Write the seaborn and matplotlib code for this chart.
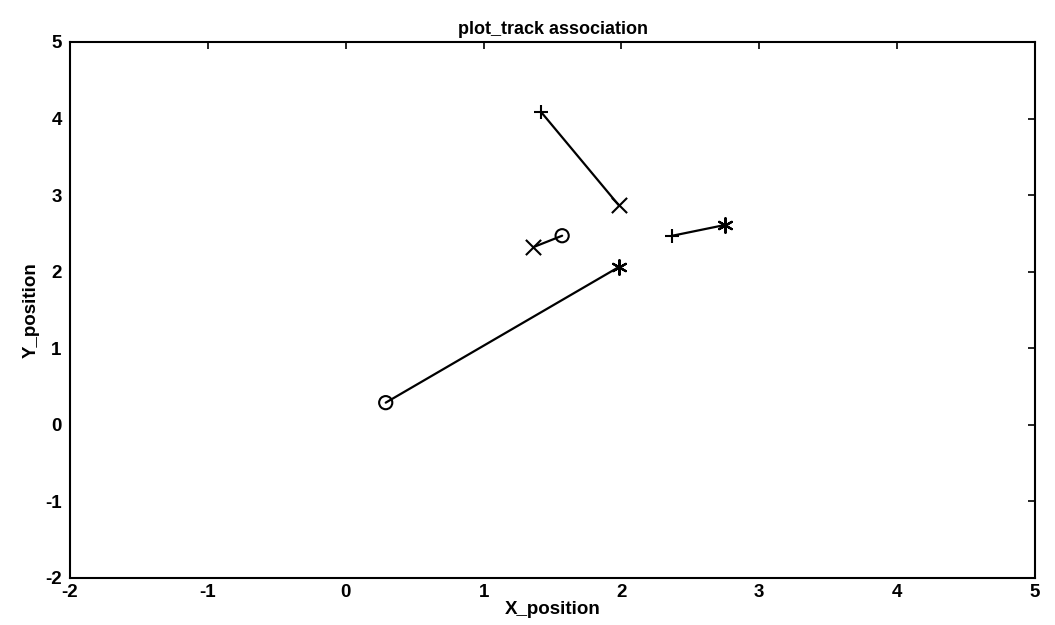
import numpy as np
import pandas as pd
import matplotlib
matplotlib.use("Agg")
import matplotlib.pyplot as plt
import seaborn as sns

sns.set_theme(style="white")
plt.rcParams["font.family"] = ["Liberation Sans", "DejaVu Sans"]
plt.rcParams["axes.unicode_minus"] = False
plt.rcParams["text.color"] = "black"
plt.rcParams["axes.labelcolor"] = "black"

# Each track: start point -> end point, with the marker used at each end
track_ids = ["A", "A", "B", "B", "C", "C", "D", "D"]
x_pos = [1.42, 1.98, 1.36, 1.57, 2.37, 2.75, 0.29, 1.98]
y_pos = [4.08, 2.87, 2.32, 2.47, 2.47, 2.61, 0.29, 2.06]
end_markers = ["+", "x", "x", "o", "+", "*", "o", "*"]

x_ticks = [-2, -1, 0, 1, 2, 3, 4, 5]
y_ticks = [-2, -1, 0, 1, 2, 3, 4, 5]

df = pd.DataFrame({"track": track_ids, "x": x_pos, "y": y_pos, "marker": end_markers})

fig = plt.figure(figsize=(10.55, 6.25), dpi=100)
ax = fig.add_axes([0.0664, 0.0752, 0.9146, 0.8576])

sns.lineplot(data=df, x="x", y="y", units="track", estimator=None, sort=False,
             color="black", linewidth=1.6, ax=ax, legend=False)

marker_map = {"+": dict(marker="+", s=110, linewidths=1.5),
              "x": dict(marker="x", s=120, linewidths=1.5),
              "o": dict(marker="o", s=90, linewidths=1.5, facecolors="none"),
              "*": dict(marker=(6, 2, 0), s=110, linewidths=1.6)}
for m, kw in marker_map.items():
    sub = df[df["marker"] == m]
    kw = dict(kw)
    face = kw.pop("facecolors", "black")
    sns.scatterplot(data=sub, x="x", y="y", ax=ax, color="black", zorder=3,
                    edgecolor="black", legend=False, **kw)
    if face == "none":
        ax.collections[-1].set_facecolor("none")

ax.set_xlim(-2, 5)
ax.set_ylim(-2, 5)
ax.set_xticks(x_ticks)
ax.set_yticks(y_ticks)
ax.set_xticklabels([str(t) for t in x_ticks])
ax.set_yticklabels([str(t) for t in y_ticks])
ax.tick_params(direction="in", length=5, width=1.2, top=True, right=True,
               labelsize=13.5, colors="black")
ax.tick_params(axis="y", pad=6)
ax.tick_params(axis="x", pad=4)
for lab in ax.get_xticklabels() + ax.get_yticklabels():
    lab.set_fontweight("bold")
for sp in ax.spines.values():
    sp.set_color("black")
    sp.set_linewidth(1.5)

ax.set_title("plot_track association", fontsize=13, fontweight="bold", pad=6,
             color="black")
ax.set_xlabel("X_position", fontsize=13.5, fontweight="bold", labelpad=0)
ax.set_ylabel("Y_position", fontsize=13.5, fontweight="bold", labelpad=4)

fig.savefig("out.png", dpi=100, facecolor="white")
